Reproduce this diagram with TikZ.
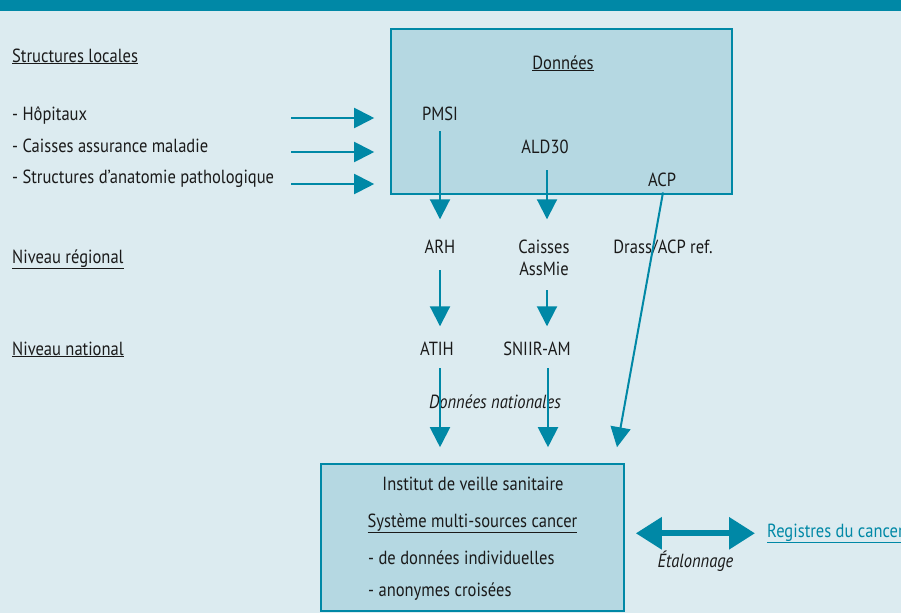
\documentclass[tikz,border=0pt]{standalone}
\usepackage{fontspec}
\setmainfont[FakeStretch=0.87]{PT Sans}
\usetikzlibrary{arrows.meta}
\definecolor{bgc}{HTML}{DCEBF0}
\definecolor{boxc}{HTML}{B5D8E2}
\definecolor{tealc}{HTML}{0088A6}
\definecolor{txtc}{HTML}{1A1A1A}
\newcommand\fsz{\fontsize{19}{22}\selectfont}
\tikzset{
  lbl/.style={font=\fsz, text=txtc, inner sep=0pt, anchor=base},
  lblw/.style={lbl, anchor=base west},
  arr/.style={draw=tealc, line width=2pt, -{Triangle[length=20pt,width=20pt]}},
  bigarr/.style={draw=tealc, line width=6pt, {Triangle[length=26pt,width=31pt]}-{Triangle[length=26pt,width=31pt]}},
  databox/.style={draw=tealc, line width=1.6pt, fill=boxc}
}
\begin{document}
\begin{tikzpicture}[x=1pt,y=-1pt]
\useasboundingbox (0,0) rectangle (901,613);
\fill[bgc] (0,0) rectangle (901,613);
\fill[tealc] (0,0) rectangle (901,11);
% boxes
\node[databox, minimum width=341pt, minimum height=165pt, inner sep=0pt] (top) at (561.5,111.5) {};
\node[databox, minimum width=303pt, minimum height=147pt, inner sep=0pt] (bot) at (472.5,537.5) {};
% left labels
\node[lblw] (sl) at (12,62) {\underline{Structures locales}};
\node[lblw] (hop) at (12,120) {- Hôpitaux};
\node[lblw] (cam) at (12,152) {- Caisses assurance maladie};
\node[lblw] (sap) at (12,183) {- Structures d’anatomie pathologique};
\node[lblw] (nr) at (12,263) {\underline{Niveau régional}};
\node[lblw] (nn) at (12,355) {\underline{Niveau national}};
% top box content
\node[lbl] (don) at (563,69) {\underline{Données}};
\node[lbl] (pmsi) at (440,120) {PMSI};
\node[lbl] (ald) at (545,153) {ALD30};
\node[lbl] (acp) at (662,186) {ACP};
% regional
\node[lbl] (arh) at (440,253) {ARH};
\node[lbl, align=center] (cais) at (544,275) {Caisses\\AssMie};
\node[lbl] (drass) at (663,253) {Drass/ACP ref.};
% national
\node[lbl] (atih) at (437,355) {ATIH};
\node[lbl] (sniir) at (537,355) {SNIIR-AM};
\node[lbl, font=\fsz\itshape] (dnat) at (495,408) {Données nationales};
% bottom box content
\node[lbl] (inst) at (473,490) {Institut de veille sanitaire};
\node[lbl] (sys) at (472.5,527) {\underline{Système multi-sources cancer}};
\node[lblw] (ind) at (368,564) {- de données individuelles};
\node[lblw] (ano) at (368,596) {- anonymes croisées};
\node[lbl, font=\fsz\itshape] (eta) at (695.5,567) {Étalonnage};
\node[lblw, text=tealc] (reg) at (767,537) {\underline{Registres du cancer}};
% incoming arrows
\coordinate (in1) at (291,118);
\coordinate (in2) at (291,152);
\coordinate (in3) at (291,184);
\draw[arr] (in1) -- ([xshift=-16pt]top.west |- in1);
\draw[arr] (in2) -- ([xshift=-16pt]top.west |- in2);
\draw[arr] (in3) -- ([xshift=-16pt]top.west |- in3);
% vertical arrows
\draw[arr] ([yshift=-11pt]pmsi.south) -- ([yshift=20pt]arh.north);
\draw[arr] ([xshift=2pt,yshift=-17pt]ald.south) -- ([yshift=20pt]arh.north -| 547,0);
\draw[arr] ([yshift=-17pt]arh.south) -- ([yshift=15pt]atih.north -| arh.south);
\draw[arr] ([xshift=3pt,yshift=-15pt]cais.south) -- ([yshift=15pt]sniir.north -| 547,0);
\draw[arr] ([xshift=3pt,yshift=-13pt]atih.south) -- ([yshift=16pt]bot.north -| 440,0);
\draw[arr] ([xshift=11pt,yshift=-13pt]sniir.south) -- ([yshift=16pt]bot.north -| 548,0);
\draw[arr] ([xshift=1pt,yshift=-6pt]acp.south) -- ([yshift=16pt]bot.north -| 617,0);
% calibration arrow
\draw[bigarr] ([xshift=11pt]bot.east |- reg.west) -- ([xshift=-12pt]reg.west);
\end{tikzpicture}
\end{document}
